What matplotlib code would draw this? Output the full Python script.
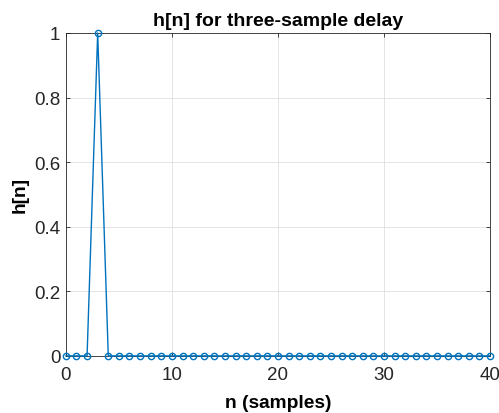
import numpy as np
import matplotlib
matplotlib.use("Agg")
import matplotlib.pyplot as plt

plt.rcParams['font.family'] = ['Liberation Sans', 'DejaVu Sans']

n = list(range(0, 41))
h = [0, 0, 0, 1] + [0] * 37
xticks = [0, 10, 20, 30, 40]
yticks = [0, 0.2, 0.4, 0.6, 0.8, 1]
ytick_labels = ['0', '0.2', '0.4', '0.6', '0.8', '1']

fig = plt.figure(figsize=(4.99, 4.14), dpi=100)
ax = fig.add_axes([0.132, 0.138, 0.85, 0.78])
ax.plot(n, h, color='#0072BD', linewidth=1.0, marker='o', markersize=4.5,
        markerfacecolor='none', markeredgewidth=1.0, clip_on=False, zorder=3)
ax.set_xlim(0, 40)
ax.set_ylim(0, 1)
ax.set_xticks(xticks)
ax.set_xticklabels([str(t) for t in xticks])
ax.set_yticks(yticks)
ax.set_yticklabels(ytick_labels)
ax.grid(True, color='#DFDFDF', linewidth=0.6)
ax.set_axisbelow(True)
for s in ax.spines.values():
    s.set_color('#262626')
    s.set_linewidth(0.6)
ax.tick_params(direction='in', length=3, width=0.6, colors='#262626', labelsize=13.5,
               top=True, right=True, labeltop=False, labelright=False)
ax.tick_params(axis='x', pad=7)
ax.tick_params(axis='y', pad=4)
ax.set_title('h[n] for three-sample delay', fontsize=14, fontweight='bold', pad=6)
ax.set_xlabel('n (samples)', fontsize=13.8, fontweight='bold', labelpad=8)
ax.set_ylabel('h[n]', fontsize=13.8, fontweight='bold', labelpad=4)
fig.savefig('out.png', dpi=100)
